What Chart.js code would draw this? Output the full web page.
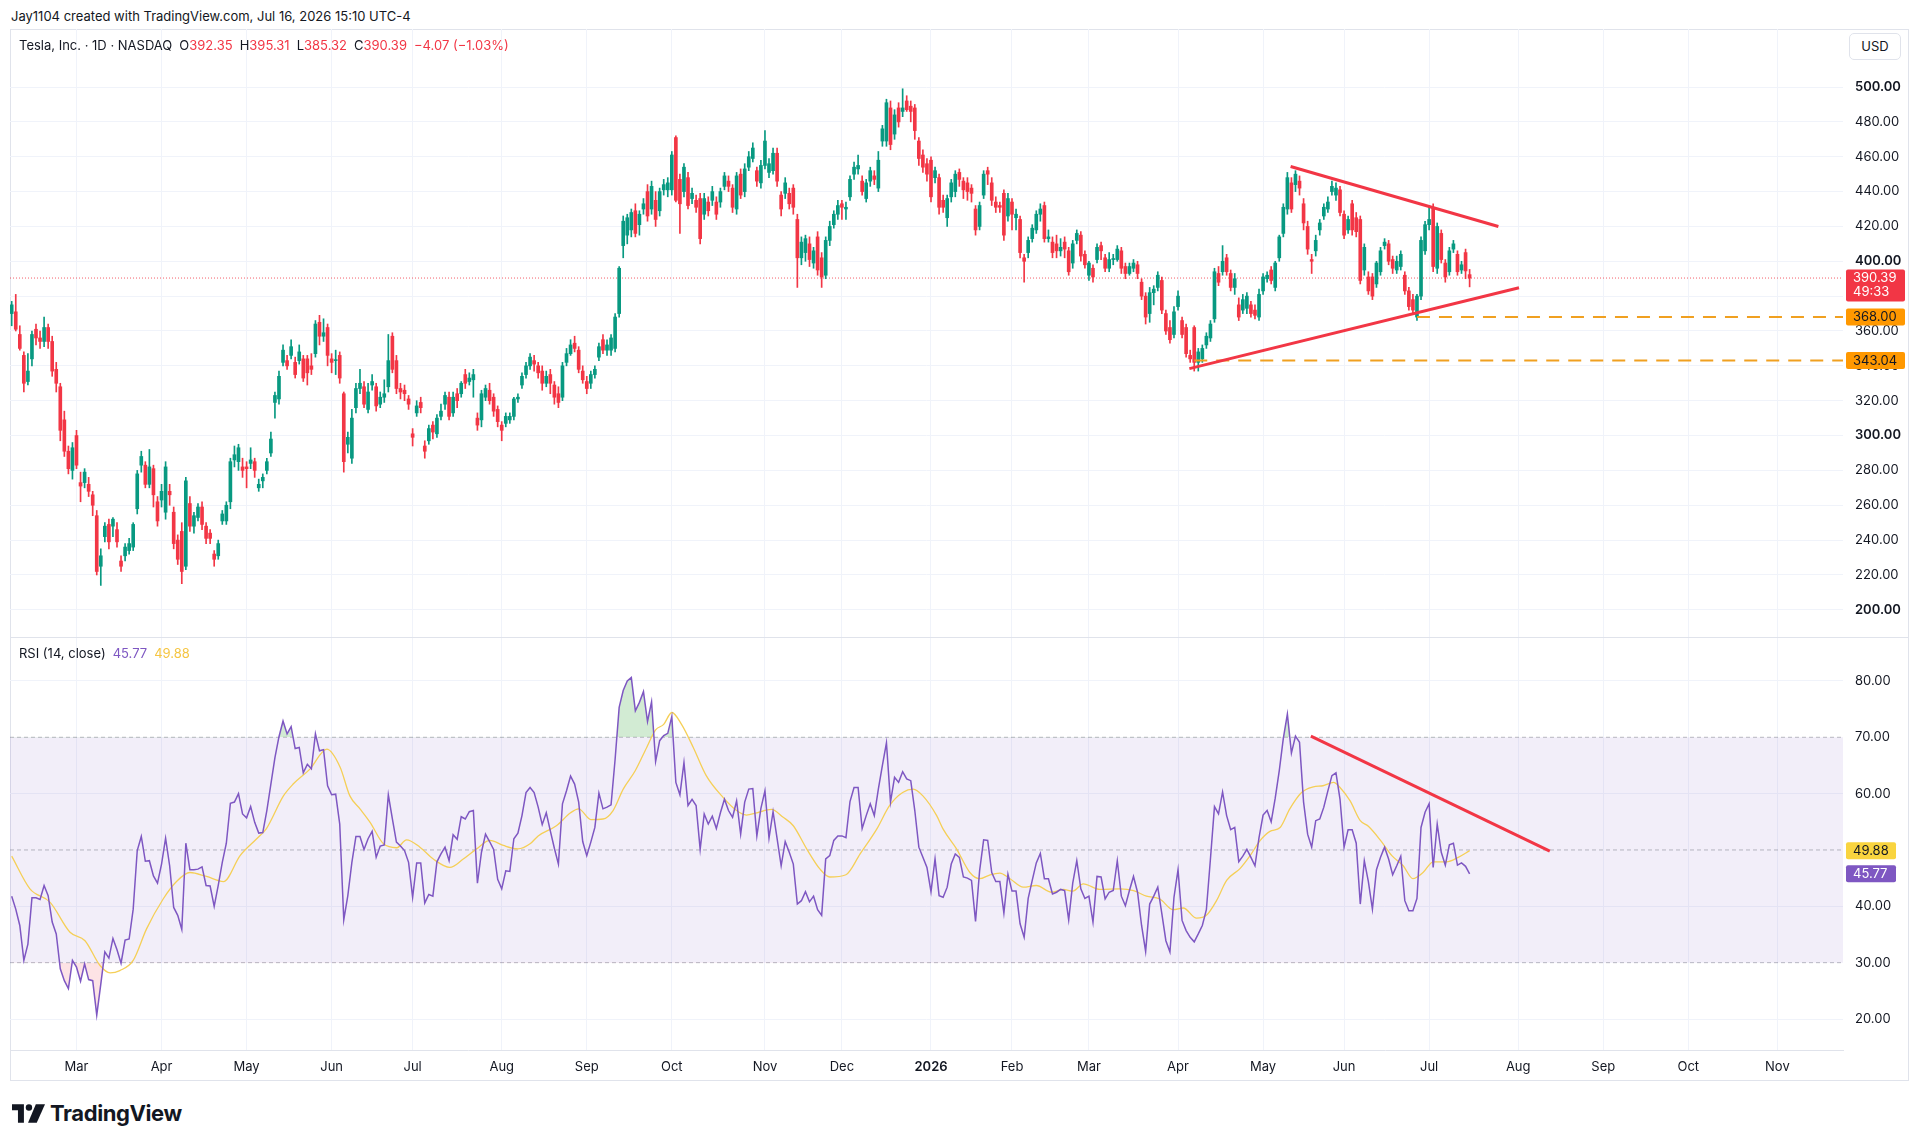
<!DOCTYPE html>
<html lang="en">
<head>
<meta charset="UTF-8">
<title>Tesla, Inc. · 1D · NASDAQ</title>
<script src="https://cdn.jsdelivr.net/npm/chart.js@4.4.1/dist/chart.umd.min.js"></script>
<style>
  body { margin: 0; background: #fff; font-family: Inter, 'Noto Sans', sans-serif; color: #131722; }
  .page { position: relative; width: 1920px; height: 1144px; overflow: hidden; }
  .credit { position: absolute; left: 11px; top: 8px; font-size: 13px; line-height: 16px; }
  .frame { position: absolute; left: 10px; top: 29px; width: 1897px; height: 1050px; border: 1px solid #e0e3eb; }
  .sep { position: absolute; left: 10px; top: 637px; width: 1898px; height: 1px; background: #e0e3eb; }
  canvas { position: absolute; left: 0; }
  #price { top: 29px; }
  #rsi { top: 637px; }
  .legend { position: absolute; left: 19px; font-size: 13px; line-height: 16px; white-space: nowrap; }
  .legend span { margin-left: 7px; }
  .legend b { font-weight: 400; margin-left: 0; }
  .dn { color: #F23645; }
  .usd { position: absolute; left: 1849px; top: 33px; width: 50px; height: 25px; border: 1px solid #e0e3eb;
         border-radius: 5px; font-size: 13px; line-height: 25px; text-align: center; background: #fff; }
  .logo { position: absolute; left: 12px; top: 1100px; display: flex; align-items: center; gap: 5px;
          font-size: 22px; font-weight: 700; letter-spacing: -0.4px; }
</style>
</head>
<body>
<div class="page">
  <div class="credit">Jay1104 created with TradingView.com, Jul 16, 2026 15:10 UTC-4</div>
  <div class="frame"></div>
  <canvas id="price" width="1920" height="608"></canvas>
  <canvas id="rsi" width="1920" height="443"></canvas>
  <div class="sep"></div>
  <div class="legend" id="priceLegend" style="top:37px"></div>
  <div class="legend" id="rsiLegend" style="top:645px"></div>
  <div class="usd">USD</div>
  <div class="logo">
    <svg width="33" height="19" viewBox="0 0 36 20">
      <path d="M0 0H13V20H6.5V6.5H0Z" fill="#131722"/>
      <circle cx="18.5" cy="3.5" r="3.5" fill="#131722"/>
      <path d="M26 0H36L27 20H17.5Z" fill="#131722"/>
    </svg>
    <span>TradingView</span>
  </div>
</div>

<script>
// bar index 0 = first trading day of Mar 2025, one step per trading day
const firstBar = -16;

// daily candles, bar -16 .. 344 (last one is Jul 16 2026)
const opens = [
  370,371,358,346,331,344,361,356,354,362,  354,338,328,309,291,280,300,273,273,272,
  266,254,225,242,249,248,246,228,231,234,  236,258,283,283,272,281,262,263,256,268,
  256,240,245,225,261,248,253,259,248,244,  232,231,251,251,262,286,285,282,282,284,
  285,270,274,280,290,319,321,342,343,346,  342,343,344,344,340,347,365,357,362,344,
  343,346,324,295,287,316,327,328,315,329,  328,318,322,328,357,343,327,326,321,301,
  313,319,294,297,306,301,311,318,322,313,  324,324,335,331,332,310,309,322,326,322,
  315,306,307,309,311,321,329,335,340,343,  340,337,330,335,329,324,322,342,347,353,
  349,337,331,330,335,345,355,349,349,350,  370,409,415,418,429,421,430,440,430,435,
  429,441,441,441,471,447,440,448,436,435,  436,427,434,435,434,434,443,446,442,430,
  450,440,454,459,452,445,455,451,452,462,  438,439,439,442,424,402,405,410,399,414,
  402,392,412,421,427,433,430,437,450,453,  446,436,446,449,442,469,469,488,473,488,
  486,492,489,488,469,461,456,458,448,448,  435,425,437,440,451,446,445,442,430,420,
  438,452,445,434,432,439,426,434,425,424,  402,405,413,418,427,432,413,411,410,406,
  411,406,399,412,415,404,392,396,401,409,  402,396,401,401,406,397,393,396,398,388,
  380,370,382,385,389,370,362,358,374,366,  362,346,362,342,344,352,356,367,393,394,
  402,393,385,375,372,373,375,372,368,383,  390,395,385,402,416,430,445,444,446,433,
  420,401,406,418,426,430,440,438,441,427,  418,433,425,424,395,391,391,387,394,409,
  410,401,395,397,392,383,378,368,380,406,  421,431,396,416,399,394,407,404,395,405,
  392.35
];
const highs = [
  377,381,363,348,347,360,364,360,368,364,  357,342,330,314,294,296,303,279,281,276,
  268,257,235,250,252,253,250,231,238,241,  250,280,291,285,292,283,265,272,285,272,
  259,243,250,276,265,256,261,262,250,246,  234,240,257,262,287,294,295,287,285,293,
  287,275,278,287,302,325,337,352,346,355,  345,352,346,346,347,366,369,367,364,347,
  349,348,325,302,315,330,338,331,330,335,  330,325,332,358,359,346,330,329,323,304,
  320,322,297,306,308,312,318,325,325,325,  327,331,338,336,338,313,326,329,330,324,
  317,308,313,313,322,324,336,342,347,346,  342,340,337,338,331,328,342,350,355,357,
  351,340,334,337,340,353,358,355,358,370,  397,426,427,430,433,429,436,444,446,440,
  442,447,448,463,472,450,456,451,442,438,  439,439,437,443,437,442,451,449,444,451,
  453,456,463,468,454,458,475,459,465,465,  440,448,442,444,427,414,415,414,408,417,
  405,414,423,429,435,435,434,449,457,461,  449,447,454,452,463,478,493,492,487,491,
  499,495,492,490,471,464,459,460,454,450,  438,438,447,452,453,448,448,444,432,434,
  452,454,448,437,434,441,439,436,430,426,  404,414,421,429,433,434,418,414,415,413,
  414,408,412,418,417,406,400,398,410,411,  404,405,404,409,408,399,399,401,400,390,
  382,385,386,394,391,372,366,374,383,368,  364,349,363,350,352,359,366,396,397,409,
  404,395,393,379,381,382,377,375,384,393,  394,397,400,415,433,451,448,452,449,436,
  423,404,415,424,433,437,446,445,443,429,  426,435,428,426,410,394,393,400,408,413,
  412,403,403,406,394,385,381,381,414,423,  432,433,422,418,401,408,412,406,400,407,
  395.31
];
const lows = [
  363,360,349,325,329,340,352,350,351,350,  334,325,297,288,278,275,281,262,270,265,
  254,220,214,239,235,242,236,222,228,232,  234,255,279,270,270,259,248,259,252,260,
  235,226,215,223,245,244,251,246,238,238,  225,229,249,249,258,282,280,276,270,281,
  276,268,270,278,288,310,318,340,338,344,  333,341,331,329,335,345,352,354,340,336,
  335,330,279,290,284,313,324,316,313,326,  314,316,319,325,336,324,321,320,315,294,
  311,313,287,295,298,299,309,315,309,311,  316,322,327,329,322,303,305,320,318,311,
  305,297,305,307,309,319,327,333,338,337,  333,326,328,324,318,316,320,340,346,348,
  336,330,324,327,333,343,347,346,346,348,  368,402,410,414,414,415,427,423,427,420,
  426,438,437,438,434,416,437,430,433,428,  410,424,426,432,424,431,441,440,428,427,
  436,437,452,457,443,442,453,448,450,443,  426,436,430,427,385,398,400,397,396,392,
  385,390,409,419,424,424,424,435,447,450,  438,434,443,444,440,466,466,464,470,477,
  483,486,480,470,455,451,446,434,445,427,  428,420,434,437,443,436,435,434,415,418,
  436,444,432,428,428,412,423,418,418,402,  388,402,411,416,423,411,411,402,402,403,
  402,392,396,410,400,396,389,388,399,401,  394,394,398,400,393,390,392,394,390,378,
  364,365,375,383,370,358,353,356,372,356,  345,342,337,337,342,350,354,365,386,392,
  392,383,381,366,370,370,368,367,366,381,  388,387,383,400,414,427,428,440,438,418,
  404,393,403,415,424,428,438,435,426,413,  416,415,414,387,392,381,378,385,392,407,
  398,393,393,395,381,372,370,366,378,404,  418,394,393,399,388,392,405,392,393,390,
  385.32
];
const closes = [
  375,361,350,330,337,358,356,354,362,354,  337,330,303,291,281,293,283,271,279,268,
  260,222,231,248,239,252,239,225,236,238,  249,278,288,272,282,266,251,268,282,266,
  238,229,222,274,248,254,259,249,241,241,  229,238,255,260,285,289,293,280,281,286,
  280,272,276,285,298,323,334,349,340,351,  335,348,333,336,338,364,357,359,346,342,
  343,333,285,299,310,327,330,318,325,331,  317,322,324,343,338,327,325,324,318,299,
  317,316,291,304,302,310,314,323,311,322,  320,330,330,333,335,306,324,327,320,314,
  308,303,311,311,321,322,334,340,345,341,  336,330,334,330,322,319,340,347,352,350,
  338,332,327,335,338,351,349,352,356,368,  396,423,425,428,416,427,433,426,443,424,
  440,444,445,461,435,433,454,432,439,431,  413,436,429,440,427,440,449,443,431,449,
  438,453,460,465,446,455,469,456,462,446,  430,445,433,431,402,411,413,401,406,395,
  391,412,420,427,432,431,431,447,454,455,  440,445,452,447,458,476,491,467,484,480,
  488,487,486,475,459,454,450,437,452,431,  431,436,445,450,447,441,440,439,418,432,
  450,450,435,431,431,415,436,427,427,405,  400,412,419,427,430,413,414,405,406,408,
  407,394,410,416,403,398,399,391,408,406,  396,401,401,407,396,393,397,399,393,380,
  368,382,384,392,372,360,355,371,380,358,  347,344,342,348,350,357,364,394,388,400,
  394,385,390,368,378,380,370,369,381,391,  392,389,399,414,431,448,430,450,442,422,
  407,400,412,422,431,434,443,442,428,415,  424,418,417,389,408,383,380,399,406,411,
  400,396,400,404,383,374,372,380,412,421,  424,397,420,401,391,406,410,394,398,394.46,
  390.39
];

// RSI (14, close), same bars
const rsi = [
  41.8,39.5,36.6,30.4,33.3,41.5,41.5,41.2,43.7,41.9,  37.2,35.1,28.9,26.8,25.4,30.4,29.2,26.7,29.8,27.0,
  26.8,20.7,26.2,31.9,30.8,34.3,32.3,29.9,34.0,34.2,  39.5,49.9,52.4,48.0,48.1,45.4,44.1,47.5,52.1,47.2,
  39.8,38.4,35.9,51.2,46.5,46.5,46.6,47.0,43.7,43.6,  40.0,43.7,47.8,51.2,58.3,58.5,60.0,56.4,55.7,57.7,
  54.9,53.0,53.1,57.0,61.7,66.4,70.1,72.9,70.6,71.9,  68.0,68.2,63.7,65.2,64.4,70.6,67.6,67.8,61.4,59.8,
  59.9,54.6,37.6,41.9,47.8,52.4,52.4,50.1,52.0,53.3,  48.7,50.7,50.9,59.8,55.5,51.4,50.7,49.9,47.8,41.6,
  47.7,47.7,40.6,42.1,41.8,47.9,49.3,50.5,48.1,52.7,  51.9,55.9,55.5,56.8,57.0,44.1,49.6,52.8,51.5,50.1,
  44.8,43.1,46.3,46.2,52.0,53.0,56.1,60.2,61.1,60.2,  57.6,54.5,56.6,53.4,50.3,47.5,58.2,60.5,63.1,61.7,
  58.5,51.5,49.0,51.4,54.0,60.1,57.3,57.6,58.0,66.1,  75.3,78.3,80.0,80.6,74.7,76.2,78.1,72.8,76.3,65.7,
  69.4,70.3,70.7,73.7,62.0,59.8,65.5,57.9,59.0,57.9,  50.1,56.4,54.6,56.0,53.8,56.6,59.0,57.0,55.8,58.7,
  52.8,58.5,60.8,60.9,52.5,57.4,60.5,52.1,56.8,52.0,  47.2,51.5,49.6,47.5,40.4,41.0,42.6,40.8,41.8,39.4,
  38.4,48.4,49.0,51.7,52.5,52.5,52.2,58.6,61.1,61.1,  53.8,56.1,58.2,56.1,60.8,65.0,69.0,58.5,62.9,62.0,
  63.9,62.6,62.3,57.0,50.5,48.7,46.9,42.6,48.4,41.9,  41.6,43.4,47.5,49.3,48.7,45.2,45.0,44.6,37.3,46.3,
  51.8,51.7,46.0,44.4,44.4,38.8,45.7,42.7,42.7,36.9,  34.5,41.4,44.6,47.7,49.4,44.9,44.9,42.2,42.5,43.0,
  42.8,37.6,44.1,48.1,43.1,41.4,41.8,37.2,45.3,45.2,  41.3,42.5,42.8,48.1,41.8,40.1,42.8,45.3,42.5,36.6,
  32.0,40.4,41.8,43.4,38.7,33.9,31.9,41.6,46.5,37.5,  35.7,34.5,33.7,35.1,36.6,39.4,48.4,57.7,56.4,60.3,
  56.1,53.6,54.0,47.9,48.9,50.1,48.7,47.2,52.2,56.2,  57.0,55.0,59.2,64.1,69.8,74.1,67.2,70.2,69.1,58.5,
  52.8,50.5,55.2,55.5,57.6,60.5,63.2,63.7,59.0,50.5,  53.6,53.6,51.2,40.4,48.1,44.4,39.5,46.5,48.7,50.5,
  48.4,45.6,47.2,48.9,41.0,39.2,39.2,41.4,54.0,56.7,  58.2,46.9,54.6,49.6,47.3,50.9,51.2,47.3,47.7,47.1,
  45.77
];

// RSI-based MA (yellow) at these bars
const maBars = [-16,-11.5,-6.5,-1.6,2.1,5.8,8.3,10.7,14,17.3,21.4,24.7,28,32.1,36.3,40.4,44.5,46.9,51.1,53.5,
  57.7,61.8,65.1,67.5,70,72.5,75.8,79.1,81.5,84.8,88.1,92.2,95.5,98.8,102.1,105.4,109,112,114,118.5,
  122,124,127,130,132.5,135,138,140.8,143,145,147,149.4,152.3,155.5,159.7,163,165.4,168,171.6,174.5,
  177,180.3,183.6,186,190,193.5,197.6,200.8,204,206.6,209,212.4,214,217.3,220.6,223,225.6,228,230.5,233.8,
  237,240.8,243.7,246,248.6,252.7,257.7,261,264.2,267.5,270.8,273.3,276.6,279,281.5,284,287.3,289.8,292.3,294.7,
  297.2,299.6,302.5,305.4,307.8,310.4,312,314.5,317,319,322,324.8,327.6,330,332.5,335,338.3,341.2,344];
const maValues = [48.9,43.1,40.7,35.4,33.9,29.5,28.2,28.6,30.4,36.0,41.3,44.4,46.0,45.3,44.4,49.0,52.0,53.8,59.6,61.7,
  64.4,67.9,64.7,59.6,57.3,54.9,51.1,50.4,51.8,50.5,48.4,46.9,48.4,50.2,51.7,50.8,50.2,51.1,52.5,54.3,
  56.6,57.3,55.4,55.5,57.0,60.8,64.1,68.2,71.3,72.3,74.4,72.3,68.2,63.2,59.3,57.0,56.2,56.6,57.2,55.8,
  54.3,50.2,46.6,45.2,45.6,49.3,53.7,57.9,60.2,60.8,59.6,56.1,53.7,50.2,46.0,44.9,45.6,45.9,44.9,43.4,
  43.7,42.5,43.0,42.7,44.0,43.0,43.1,42.8,41.8,41.3,39.4,39.7,37.9,38.4,41.0,44.6,46.7,49.0,51.7,53.3,
  54.0,57.3,60.2,61.2,61.4,62.0,61.1,58.7,55.2,54.2,51.7,49.0,47.2,44.9,46.0,47.9,47.9,48.7,49.88];

// drawings
const triUpperX = [299.8, 351.1], triUpperY = [454.4, 420.0];
const triLowerX = [274.8, 356.2], triLowerY = [338.4, 384.8];
const levelValues = [368.00, 343.04], levelStart = [331, 276];
const rsiTrendX = [304.8, 363.8], rsiTrendY = [70.2, 49.8];

// time axis and price axis ticks
const monthBars = [0,21,42,63,83,105,126,147,170,189,211,231,250,272,293,313,334,356,377,398,420];
const monthLabels = ['Mar','Apr','May','Jun','Jul','Aug','Sep','Oct','Nov','Dec','2026','Feb','Mar','Apr','May','Jun','Jul','Aug','Sep','Oct','Nov'];
const priceTicks = [200,220,240,260,280,300,320,340,360,380,400,420,440,460,480,500];
const rsiTicks = [20,30,40,50,60,70,80];

const UP = '#089981', DOWN = '#F23645';
const GRID = '#f0f3fa';
const xMin = -16.42, xMax = 436.2;
const last = closes.length - 1;
const lastClose = closes[last];

Chart.defaults.font.family = "Inter, 'Noto Sans', sans-serif";
Chart.defaults.font.size = 13;
Chart.defaults.color = '#131722';

// legends
const change = lastClose - closes[last - 1];
const fmt = v => v.toFixed(2).replace('-', '\u2212');
document.getElementById('priceLegend').innerHTML =
  'Tesla, Inc. · 1D · NASDAQ' +
  '<span>O<b class="dn">' + opens[last].toFixed(2) + '</b></span>' +
  '<span>H<b class="dn">' + highs[last].toFixed(2) + '</b></span>' +
  '<span>L<b class="dn">' + lows[last].toFixed(2) + '</b></span>' +
  '<span>C<b class="dn">' + lastClose.toFixed(2) + '</b></span>' +
  '<span class="dn">' + fmt(change) + ' (' + fmt(change / closes[last - 1] * 100) + '%)</span>';
document.getElementById('rsiLegend').innerHTML =
  'RSI (14, close)<span style="color:#7E57C2">' + rsi[last].toFixed(2) + '</span>' +
  '<span style="color:#F5C542">' + maValues[maValues.length - 1].toFixed(2) + '</span>';

function drawTag(chart, value, bg, fg, w, h, extra) {
  const ctx = chart.ctx;
  const y = chart.scales.y.getPixelForValue(value);
  const x = chart.chartArea.right + 3;
  ctx.save();
  ctx.fillStyle = bg;
  ctx.beginPath();
  ctx.roundRect(x, y - 8.5, w, h, 2);
  ctx.fill();
  ctx.fillStyle = fg;
  ctx.font = "13px Inter, 'Noto Sans', sans-serif";
  ctx.textBaseline = 'middle';
  ctx.fillText(value.toFixed(2), x + 7, y + 0.5);
  if (extra) ctx.fillText(extra, x + 7, y + 14.5);
  ctx.restore();
}

const priceTags = {
  id: 'priceTags',
  afterDraw(chart) {
    drawTag(chart, levelValues[0], '#FF9800', '#131722', 59, 17);
    drawTag(chart, levelValues[1], '#FF9800', '#131722', 59, 17);
    drawTag(chart, lastClose, '#F23645', '#ffffff', 59, 32, '49:33');
  }
};
const rsiTags = {
  id: 'rsiTags',
  afterDraw(chart) {
    drawTag(chart, maValues[maValues.length - 1], '#F9D43F', '#131722', 50, 17);
    drawTag(chart, rsi[last], '#7E57C2', '#ffffff', 50, 17);
  }
};

// keep the plot box exactly where the layout puts it
const noPadY = ax => { ax.width = 65; ax.paddingTop = 0; ax.paddingBottom = 0; };
const noPadX = h => ax => { ax.height = h; ax.paddingLeft = 0; ax.paddingRight = 0; };

const xs = closes.map((c, k) => firstBar + k);
const candleColor = c => closes[c.dataIndex] >= opens[c.dataIndex] ? UP : DOWN;
const seg = (ax, ay) => ax.map((x, k) => ({ x, y: ay[k] }));
const flat = (x0, v) => [{ x: x0, y: v }, { x: xMax, y: v }];

new Chart(document.getElementById('price'), {
  type: 'bar',
  data: {
    datasets: [
      { type: 'line', data: seg(triUpperX, triUpperY), borderColor: '#F23645', borderWidth: 3, pointRadius: 0, order: 0 },
      { type: 'line', data: seg(triLowerX, triLowerY), borderColor: '#F23645', borderWidth: 3, pointRadius: 0, order: 0 },
      { type: 'line', data: flat(levelStart[0], levelValues[0]), borderColor: '#F0A020', borderWidth: 2, borderDash: [13, 9], pointRadius: 0, order: 1 },
      { type: 'line', data: flat(levelStart[1], levelValues[1]), borderColor: '#F0A020', borderWidth: 2, borderDash: [13, 9], pointRadius: 0, order: 1 },
      { data: xs.map((x, k) => ({ x, y: [Math.min(opens[k], closes[k]), Math.max(opens[k], closes[k])] })),
        backgroundColor: candleColor, barThickness: 3, minBarLength: 1, borderWidth: 0, grouped: false, order: 2 },
      { data: xs.map((x, k) => ({ x, y: [lows[k], highs[k]] })),
        backgroundColor: candleColor, barThickness: 1, minBarLength: 1, borderWidth: 0, grouped: false, order: 3 },
      { type: 'line', data: flat(xMin, lastClose), borderColor: 'rgba(242,54,69,0.8)', borderWidth: 1, borderDash: [1, 2], pointRadius: 0, order: 4 }
    ]
  },
  options: {
    responsive: false, animation: false, devicePixelRatio: 1,
    layout: { autoPadding: false, padding: { left: 10, right: 12, top: 0, bottom: 0 } },
    plugins: { legend: { display: false }, tooltip: { enabled: false } },
    scales: {
      x: {
        type: 'linear', min: xMin, max: xMax, offset: false,
        grid: { color: GRID, offset: false, drawTicks: false },
        border: { display: false },
        ticks: { display: false },
        afterBuildTicks: ax => { ax.ticks = monthBars.map(v => ({ value: v })); },
        afterFit: noPadX(0)
      },
      y: {
        position: 'right', min: 184.4, max: 533.3,
        grid: { color: GRID, drawTicks: false },
        border: { display: false },
        ticks: {
          padding: 12, color: '#131722',
          callback: v => v.toFixed(2),
          font: c => ({ size: 13, weight: c.tick && c.tick.value % 100 === 0 ? '600' : '400' })
        },
        afterBuildTicks: ax => { ax.ticks = priceTicks.map(v => ({ value: v })); },
        afterFit: noPadY
      }
    }
  },
  plugins: [priceTags]
});

new Chart(document.getElementById('rsi'), {
  type: 'line',
  data: {
    datasets: [
      { data: seg(rsiTrendX, rsiTrendY), borderColor: '#F23645', borderWidth: 3, pointRadius: 0, order: 0 },
      { data: xs.map((x, k) => ({ x, y: rsi[k] })), borderColor: '#7E57C2', borderWidth: 1.5, pointRadius: 0, order: 1 },
      { data: seg(maBars, maValues), borderColor: '#F5CF57', borderWidth: 1.3, pointRadius: 0, cubicInterpolationMode: 'monotone', order: 2 },
      { data: xs.map((x, k) => ({ x, y: rsi[k] })), borderWidth: 0, pointRadius: 0, order: 3,
        fill: { target: { value: 70 }, above: 'rgba(76,175,80,0.25)', below: 'rgba(0,0,0,0)' } },
      { data: xs.map((x, k) => ({ x, y: rsi[k] })), borderWidth: 0, pointRadius: 0, order: 4,
        fill: { target: { value: 30 }, above: 'rgba(0,0,0,0)', below: 'rgba(242,54,69,0.14)' } },
      { data: flat(xMin, 50), borderColor: 'rgba(120,123,134,0.5)', borderWidth: 1, borderDash: [4, 3], pointRadius: 0, order: 5 },
      { data: flat(xMin, 70), borderColor: 'rgba(120,123,134,0.5)', borderWidth: 1, borderDash: [4, 3], pointRadius: 0, order: 6,
        fill: '+1', backgroundColor: 'rgba(126,87,194,0.1)' },
      { data: flat(xMin, 30), borderColor: 'rgba(120,123,134,0.5)', borderWidth: 1, borderDash: [4, 3], pointRadius: 0, order: 7 }
    ]
  },
  options: {
    responsive: false, animation: false, devicePixelRatio: 1,
    layout: { autoPadding: false, padding: { left: 10, right: 12, top: 0, bottom: 0 } },
    plugins: { legend: { display: false }, tooltip: { enabled: false } },
    scales: {
      x: {
        type: 'linear', min: xMin, max: xMax, offset: false,
        grid: { color: GRID, drawTicks: false },
        border: { display: true, color: '#e0e3eb' },
        ticks: {
          padding: 9, color: '#131722', autoSkip: false, maxRotation: 0,
          callback: v => monthLabels[monthBars.indexOf(v)],
          font: c => ({ size: 13, weight: c.tick && c.tick.value === 211 ? '600' : '400' })
        },
        afterBuildTicks: ax => { ax.ticks = monthBars.map(v => ({ value: v })); },
        afterFit: noPadX(30)
      },
      y: {
        position: 'right', min: 14.5, max: 87.8,
        grid: { color: c => [30, 50, 70].includes(c.tick.value) ? 'rgba(0,0,0,0)' : GRID, drawTicks: false },
        border: { display: false },
        ticks: { padding: 12, color: '#131722', callback: v => v.toFixed(2) },
        afterBuildTicks: ax => { ax.ticks = rsiTicks.map(v => ({ value: v })); },
        afterFit: noPadY
      }
    }
  },
  plugins: [rsiTags]
});
</script>
</body>
</html>
